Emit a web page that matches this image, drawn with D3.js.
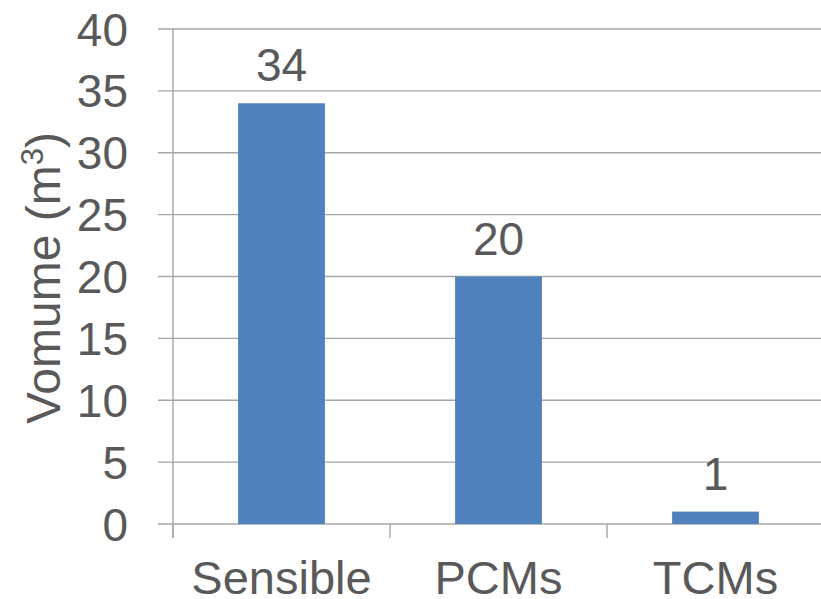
<!DOCTYPE html>
<html>
<head>
<meta charset="utf-8">
<script src="https://cdn.jsdelivr.net/npm/d3@7"></script>
<style>
  html, body { margin: 0; padding: 0; background: #fff; }
  svg { display: block; }
  text { font-family: "Liberation Sans", Arial, sans-serif; fill: #595959; }
</style>
</head>
<body>
<svg id="chart" width="821" height="599"></svg>
<script>
// Storage volume by heat storage technology
const categories = ["Sensible", "PCMs", "TCMs"];
const volumes = [34, 20, 1];
const yTicks = [0, 5, 10, 15, 20, 25, 30, 35, 40];

const svg = d3.select("#chart");
const W = 821, H = 599;
const plot = { left: 173, right: 824, top: 29, bottom: 524 };

const x = d3.scaleBand()
  .domain(categories)
  .range([plot.left, plot.right])
  .paddingInner(0.6)
  .paddingOuter(0.3);

const y = d3.scaleLinear()
  .domain([0, 40])
  .range([plot.bottom, plot.top]);

const gridColor = "#a6a6a6";
const tickFont = 46;
const catFont = 47;
const titleFont = 48;

// horizontal gridlines with a short outward stub
svg.append("g")
  .selectAll("line")
  .data(yTicks)
  .join("line")
  .attr("x1", plot.left - 15)
  .attr("x2", W)
  .attr("y1", d => y(d))
  .attr("y2", d => y(d))
  .attr("stroke", gridColor)
  .attr("stroke-width", 1.4);

// y tick labels
svg.append("g")
  .selectAll("text")
  .data(yTicks)
  .join("text")
  .attr("x", 128)
  .attr("y", d => y(d))
  .attr("dy", "0.36em")
  .attr("text-anchor", "end")
  .attr("font-size", tickFont)
  .text(d => d);

// bars
svg.append("g")
  .selectAll("rect")
  .data(categories)
  .join("rect")
  .attr("x", d => x(d))
  .attr("width", x.bandwidth())
  .attr("y", (d, i) => y(volumes[i]))
  .attr("height", (d, i) => y(0) - y(volumes[i]))
  .attr("fill", "#4f81bd");

// value labels
svg.append("g")
  .selectAll("text")
  .data(categories)
  .join("text")
  .attr("x", d => x(d) + x.bandwidth() / 2)
  .attr("y", (d, i) => y(volumes[i]) - 22)
  .attr("text-anchor", "middle")
  .attr("font-size", tickFont)
  .text((d, i) => volumes[i]);

// vertical axis line
svg.append("line")
  .attr("x1", plot.left).attr("x2", plot.left)
  .attr("y1", plot.top).attr("y2", plot.bottom + 14)
  .attr("stroke", gridColor)
  .attr("stroke-width", 1.4);

// category boundary ticks
const boundaries = d3.range(categories.length + 1).map(i => plot.left + i * x.step());
svg.append("g")
  .selectAll("line")
  .data(boundaries)
  .join("line")
  .attr("x1", d => d).attr("x2", d => d)
  .attr("y1", plot.bottom).attr("y2", plot.bottom + 14)
  .attr("stroke", gridColor)
  .attr("stroke-width", 1.4);

// category labels
svg.append("g")
  .selectAll("text")
  .data(categories)
  .join("text")
  .attr("x", d => x(d) + x.bandwidth() / 2)
  .attr("y", 594)
  .attr("text-anchor", "middle")
  .attr("font-size", catFont)
  .text(d => d);

// y axis title
const title = svg.append("text")
  .attr("transform", "translate(60,278) rotate(-90)")
  .attr("text-anchor", "middle")
  .attr("font-size", titleFont);
title.append("tspan").text("Vomume (m");
title.append("tspan").attr("font-size", titleFont * 0.65).attr("dy", "-0.55em").text("3");
title.append("tspan").attr("dy", "0.36em").text(")");
</script>
</body>
</html>
